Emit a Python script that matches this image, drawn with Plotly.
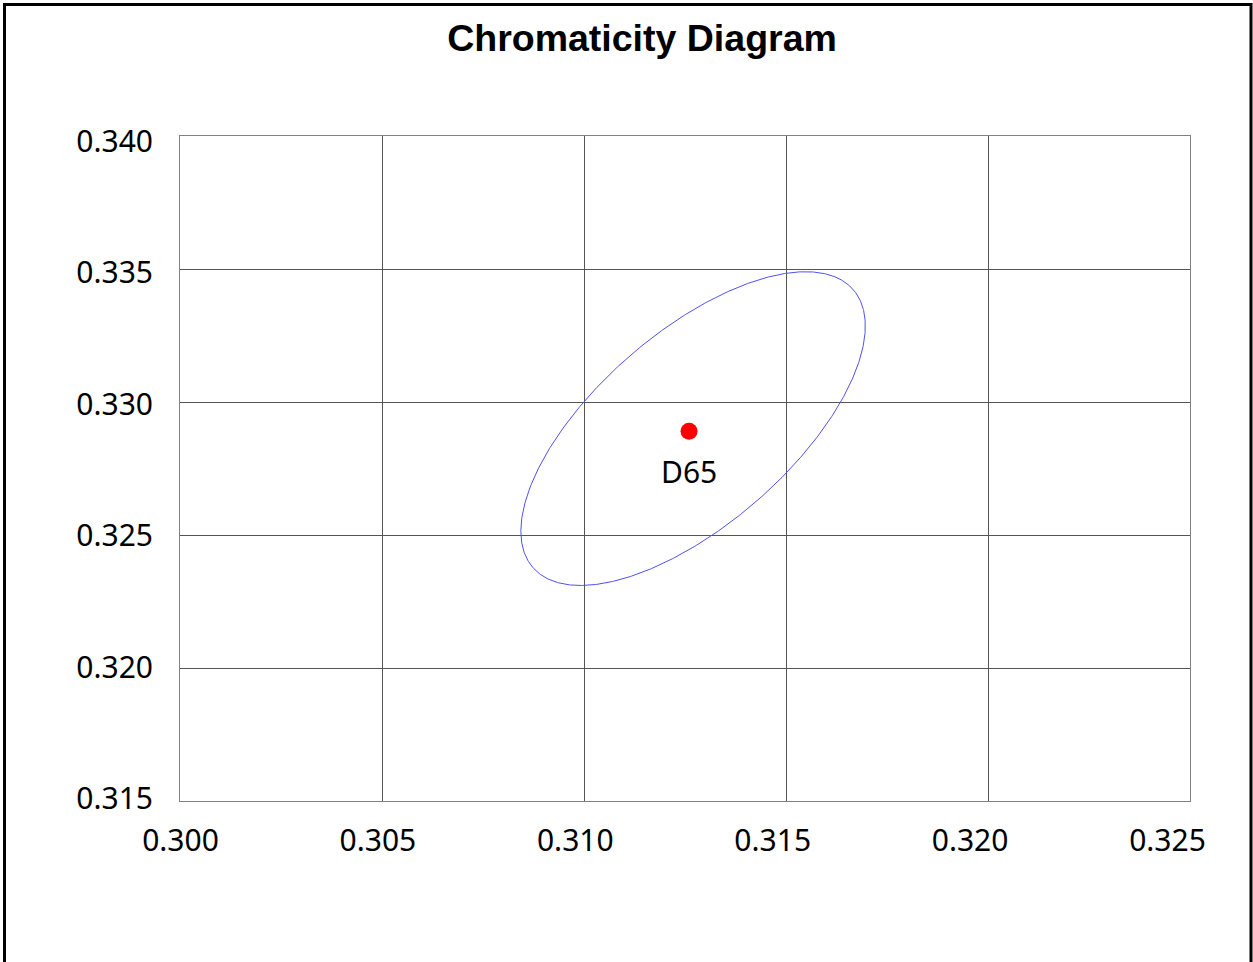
import numpy as np
import plotly.graph_objects as go

# ---------------- data ----------------
X_TICKS = [0.300, 0.305, 0.310, 0.315, 0.320, 0.325]
X_TICK_LABELS = ["0.300", "0.305", "0.310", "0.315", "0.320", "0.325"]
Y_TICKS = [0.315, 0.320, 0.325, 0.330, 0.335, 0.340]
Y_TICK_LABELS = ["0.315", "0.320", "0.325", "0.330", "0.335", "0.340"]

POINT_NAMES = ["D65"]
POINT_X = [0.3126]
POINT_Y = [0.3289]

# ellipse parameters
ELLIPSE_CENTER_X = 0.3127
ELLIPSE_CENTER_Y = 0.3290
ELLIPSE_SEMI_MAJOR = 0.0067
ELLIPSE_SEMI_MINOR = 0.00284
ELLIPSE_ANGLE_DEG = 58.4

TITLE = "Chromaticity Diagram"

# ---------------- figure ----------------
W, H = 1253, 962
L, R, T, B = 180, 63, 136, 161
PW, PH = W - L - R, H - T - B

th = np.deg2rad(ELLIPSE_ANGLE_DEG)
t = np.linspace(0, 2 * np.pi, 721)
ex = (ELLIPSE_CENTER_X + ELLIPSE_SEMI_MAJOR * np.cos(th) * np.cos(t)
      - ELLIPSE_SEMI_MINOR * np.sin(th) * np.sin(t))
ey = (ELLIPSE_CENTER_Y + ELLIPSE_SEMI_MAJOR * np.sin(th) * np.cos(t)
      + ELLIPSE_SEMI_MINOR * np.cos(th) * np.sin(t))

fig = go.Figure()
fig.add_trace(go.Scatter(x=ex, y=ey, mode="lines",
                         line=dict(color="#5050f0", width=1),
                         hoverinfo="skip", showlegend=False))
fig.add_trace(go.Scatter(x=POINT_X, y=POINT_Y, mode="markers",
                         marker=dict(color="#ff0000", size=17, line=dict(width=0)),
                         text=POINT_NAMES, showlegend=False))
# invisible trace that carries the label axes
fig.add_trace(go.Scatter(x=X_TICKS, y=Y_TICKS, xaxis="x2", yaxis="y2",
                         mode="markers", marker=dict(opacity=0),
                         hoverinfo="skip", showlegend=False))

for name, px, py in zip(POINT_NAMES, POINT_X, POINT_Y):
    fig.add_annotation(x=px, y=py, text=name, showarrow=False,
                       xanchor="center", yanchor="middle", yshift=-40,
                       font=dict(family="Noto Sans", size=30, color="black"))

tickfont = dict(family="Noto Sans", size=30, color="black")

# label axes: labels in the reference are laid out on a slightly tighter scale
sx = (X_TICKS[-1] - X_TICKS[0]) / (1167 - 180)
x2_range = [X_TICKS[0] - 0.5 * sx, X_TICKS[0] + (PW - 0.5) * sx]
sy = (Y_TICKS[-1] - Y_TICKS[0]) / (798.5 - 141.5)
y2_range = [Y_TICKS[0] - ((T + PH) - 798.5) * sy, Y_TICKS[-1] + (141.5 - T) * sy]

fig.update_layout(
    xaxis=dict(range=[X_TICKS[0], X_TICKS[-1]], tickmode="array",
               tickvals=X_TICKS, showticklabels=False,
               showgrid=True, gridcolor="#555555", gridwidth=1,
               showline=True, linecolor="#808080", linewidth=1, mirror=True,
               ticks="", zeroline=False),
    yaxis=dict(range=[Y_TICKS[0], Y_TICKS[-1]], tickmode="array",
               tickvals=Y_TICKS, showticklabels=False,
               showgrid=True, gridcolor="#555555", gridwidth=1,
               showline=True, linecolor="#808080", linewidth=1, mirror=True,
               ticks="", zeroline=False),
    xaxis2=dict(range=x2_range, overlaying="x", anchor="y", side="bottom",
                tickmode="array", tickvals=X_TICKS, ticktext=X_TICK_LABELS,
                tickfont=tickfont, showgrid=False, showline=False, ticks="",
                zeroline=False, ticklabelstandoff=19),
    yaxis2=dict(range=y2_range, overlaying="y", anchor="x", side="left",
                tickmode="array", tickvals=Y_TICKS, ticktext=Y_TICK_LABELS,
                tickfont=tickfont, showgrid=False, showline=False, ticks="",
                zeroline=False, ticklabelstandoff=26),
)

# outer black frame of the picture
fig.add_shape(type="rect", xref="paper", yref="paper",
              x0=(4.5 - L) / PW, x1=(1251 - L) / PW,
              y0=-(H + 30 - T - PH) / PH,
              y1=(PH + T - 4.5) / PH,
              line=dict(color="black", width=3), fillcolor="rgba(0,0,0,0)",
              layer="above")

fig.update_layout(
    width=W, height=H,
    margin=dict(l=L, r=R, t=T, b=B, pad=0),
    paper_bgcolor="white", plot_bgcolor="white",
    title=dict(text=TITLE, x=642 / W, xref="container", xanchor="center",
               y=1 - 38 / H, yref="container", yanchor="middle",
               font=dict(family="Liberation Sans, Arial", size=37.5, color="black",
                         weight="bold")),
    showlegend=False,
)

fig.write_html("out.html")
